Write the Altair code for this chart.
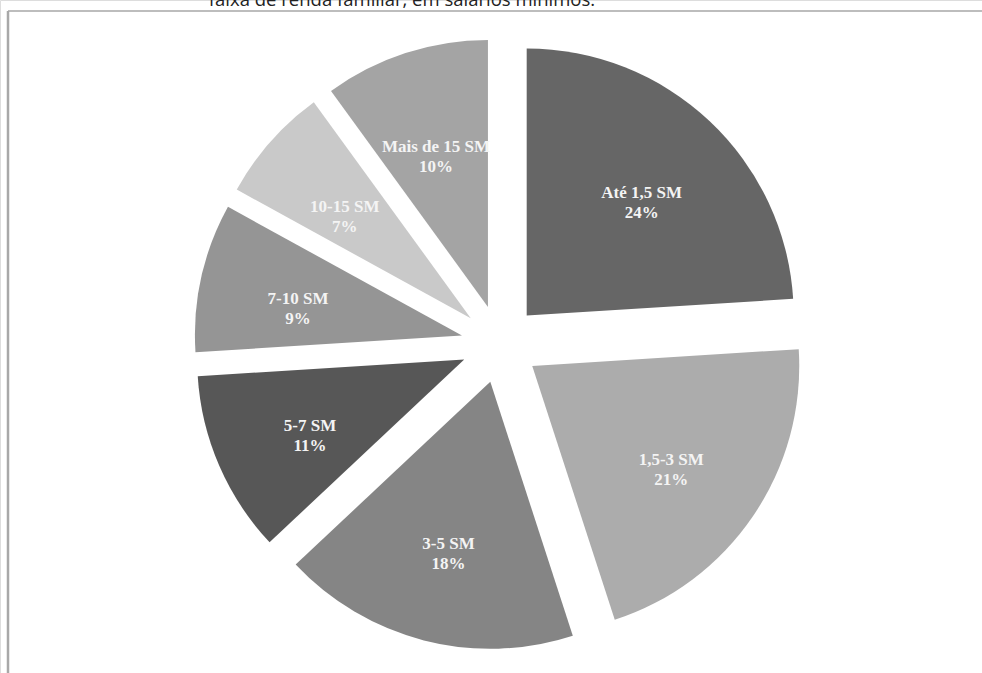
import altair as alt
import pandas as pd

# Income brackets (in minimum wages) and their share of households, clockwise from 12 o'clock
categories = ["Até 1,5 SM", "1,5-3 SM", "3-5 SM", "5-7 SM", "7-10 SM", "10-15 SM", "Mais de 15 SM"]
shares = [24, 21, 18, 11, 9, 7, 10]
greys = ["#666666", "#acacac", "#858585", "#575757", "#959595", "#c9c9c9", "#a4a4a4"]

title_text = "faixa de renda familiar, em salários mínimos."

W, H = 982, 673
CX, CY = 500, 344      # pie centre in pixels
RADIUS = 267
EXPLODE = 39           # how far each slice is pulled out
LABEL_R = 168          # label distance from a slice's own centre

df = pd.DataFrame({"cat": categories, "share": shares, "order": list(range(len(shares)))})

base = (
    alt.Chart(df)
    .transform_window(cum="sum(share)", sort=[alt.SortField("order")], frame=[None, 0])
    .transform_joinaggregate(total="sum(share)")
    .transform_calculate(
        t0="2*PI*(datum.cum - datum.share)/datum.total",
        t1="2*PI*datum.cum/datum.total",
    )
    .transform_calculate(mid="(datum.t0 + datum.t1)/2")
    .transform_calculate(
        px=f"{CX} + {EXPLODE}*sin(datum.mid)",
        py=f"{CY} - {EXPLODE}*cos(datum.mid)",
    )
    .transform_calculate(
        lx=f"datum.px + {LABEL_R}*sin(datum.mid)",
        ly=f"datum.py - {LABEL_R}*cos(datum.mid)",
        label="[datum.cat, datum.share + '%']",
    )
)

slices = base.mark_arc(radius=RADIUS, strokeWidth=0).encode(
    theta=alt.Theta("t0:Q", scale=None),
    theta2="t1:Q",
    x=alt.X("px:Q", scale=None),
    y=alt.Y("py:Q", scale=None),
    color=alt.Color("cat:N", scale=alt.Scale(domain=categories, range=greys), legend=None),
)

labels = base.mark_text(
    font="Liberation Serif", fontWeight="bold", fontSize=17, lineHeight=20,
    color="#f4f4f4", align="center", baseline="middle",
).encode(
    x=alt.X("lx:Q", scale=None),
    y=alt.Y("ly:Q", scale=None),
    text="label:N",
)

one = alt.Chart(pd.DataFrame({"k": [0]}))

frame_top = one.mark_rule(color="#bdbdbd", strokeWidth=2).encode(
    x=alt.value(8), x2=alt.value(W), y=alt.value(11)
)
frame_left = one.mark_rule(color="#a8a8a8", strokeWidth=2.5).encode(
    x=alt.value(8), y=alt.value(11), y2=alt.value(H)
)

title = one.mark_text(
    font="Open Sans", fontSize=18.5, color="#222222", align="center", baseline="alphabetic"
).encode(x=alt.value(402), y=alt.value(6), text=alt.value(title_text))

chart = (
    alt.layer(frame_top, frame_left, slices, labels, title)
    .properties(width=W, height=H, padding=0, autosize=alt.AutoSizeParams(type="none"))
    .configure_view(stroke=None)
    .configure(background="white")
)

chart.save("out.html", embed_options={"renderer": "svg", "actions": False})
